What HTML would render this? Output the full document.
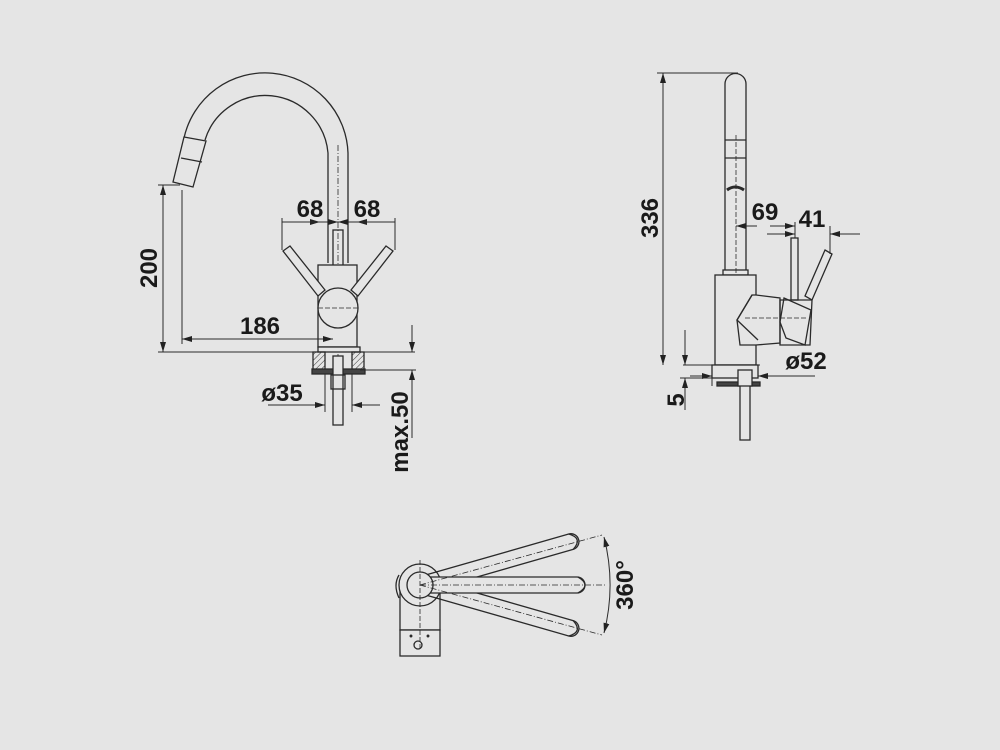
<!DOCTYPE html>
<html><head><meta charset="utf-8"><style>
html,body{margin:0;padding:0;background:#e5e5e5;}
svg{display:block}
text{font-family:"Liberation Sans",sans-serif;font-weight:bold;fill:#1a1a1a}
</style></head><body>
<svg width="1000" height="750" viewBox="0 0 1000 750" xmlns="http://www.w3.org/2000/svg">
<defs>
<marker id="a" viewBox="0 0 10 6" refX="10" refY="3" markerWidth="10" markerHeight="6" orient="auto-start-reverse" markerUnits="userSpaceOnUse"><path d="M0,0L10,3L0,6z" fill="#222"/></marker>
<pattern id="h" width="4" height="4" patternUnits="userSpaceOnUse" patternTransform="rotate(45)"><line x1="0" y1="0" x2="0" y2="4" stroke="#333" stroke-width="1"/></pattern>
</defs>
<rect width="1000" height="750" fill="#e5e5e5"/>
<g fill="none" stroke="#2a2a2a" stroke-width="1.3">
<!-- LEFT VIEW -->
<path d="M348,263 L348,153 A83,83 0 0 0 184,138"/>
<path d="M328,263 L328,153 A63,63 0 0 0 205,140"/>
<path d="M184,137 L206,141 L193,187 L173,182 Z" fill="#e5e5e5"/>
<line x1="181" y1="158" x2="202" y2="162"/>
<line x1="338" y1="145" x2="338" y2="390" stroke-dasharray="6,2,1,2" stroke-width="0.8"/>
<rect x="333" y="230" width="10" height="36"/>
<rect x="318" y="265" width="39" height="82" fill="#e5e5e5"/>
<path d="M283,251 L290,246 L325,290 L318,296 Z" fill="#e5e5e5"/>
<path d="M393,251 L386,246 L351,290 L358,296 Z" fill="#e5e5e5"/>
<circle cx="338" cy="308" r="20" fill="#e5e5e5"/>
<line x1="318" y1="308" x2="358" y2="308" stroke-dasharray="5,2" stroke-width="0.8"/>
<line x1="282" y1="222" x2="395" y2="222" stroke-width="1"/>
<line x1="282" y1="222" x2="320" y2="222" marker-end="url(#a)" stroke-width="1"/>
<line x1="395" y1="222" x2="357" y2="222" marker-end="url(#a)" stroke-width="1"/>
<line x1="300" y1="222" x2="338" y2="222" marker-end="url(#a)" stroke-width="1"/>
<line x1="376" y1="222" x2="338" y2="222" marker-end="url(#a)" stroke-width="1"/>
<line x1="282" y1="218" x2="282" y2="250" stroke-width="1"/>
<line x1="395" y1="218" x2="395" y2="250" stroke-width="1"/>
<line x1="158" y1="185" x2="180" y2="185" stroke-width="1"/>
<line x1="163" y1="185" x2="163" y2="352" marker-start="url(#a)" marker-end="url(#a)" stroke-width="1"/>
<line x1="182" y1="190" x2="182" y2="344" stroke-width="1"/>
<line x1="182" y1="339" x2="333" y2="339" marker-start="url(#a)" marker-end="url(#a)" stroke-width="1"/>
<line x1="158" y1="352" x2="415" y2="352" stroke-width="1"/>
<rect x="318" y="347" width="42" height="5" fill="#e5e5e5"/>
<rect x="313" y="352" width="12" height="18" fill="url(#h)"/>
<rect x="352" y="352" width="12" height="18" fill="url(#h)"/>
<rect x="312" y="369" width="53" height="5" fill="#444"/>
<rect x="333" y="356" width="10" height="69" fill="#e5e5e5"/>
<rect x="331" y="375" width="14" height="14"/>
<line x1="325" y1="374" x2="325" y2="412" stroke-width="1"/>
<line x1="352" y1="374" x2="352" y2="412" stroke-width="1"/>
<line x1="268" y1="405" x2="325" y2="405" marker-end="url(#a)" stroke-width="1"/>
<line x1="380" y1="405" x2="352" y2="405" marker-end="url(#a)" stroke-width="1"/>
<line x1="360" y1="370" x2="416" y2="370" stroke-width="1"/>
<line x1="412" y1="325" x2="412" y2="352" marker-end="url(#a)" stroke-width="1"/>
<line x1="412" y1="395" x2="412" y2="370" marker-end="url(#a)" stroke-width="1"/>
<line x1="412" y1="395" x2="412" y2="438" stroke-width="1"/>
<!-- RIGHT VIEW -->
<path d="M725,273 L725,84 A10.5,10.5 0 0 1 746,84 L746,273" fill="#e5e5e5"/>
<line x1="725" y1="140" x2="746" y2="140"/>
<line x1="725" y1="158" x2="746" y2="158"/>
<path d="M727,190 Q735,184 744,190" stroke-width="3"/>
<rect x="723" y="270" width="25" height="5" fill="#e5e5e5"/>
<line x1="736" y1="135" x2="736" y2="365" stroke-dasharray="5,2" stroke-width="0.8"/>
<rect x="715" y="275" width="41" height="90" fill="#e5e5e5"/>
<path d="M756,295 L780,298 L780,343 L756,345 L740,345 L737,320 L752,295 Z" fill="#e5e5e5"/>
<path d="M752,295 L737,320 L758,340" />
<rect x="791" y="238" width="7" height="62" fill="#e5e5e5"/>
<path d="M825,250 L832,254 L812,300 L805,296 Z" fill="#e5e5e5"/>
<path d="M784,298 L811,310 L805,345 L786,338 L780,322 Z" fill="#e5e5e5"/>
<path d="M780,300 L812,300 L810,345 L780,345 Z" fill="none"/>
<line x1="745" y1="318" x2="808" y2="318" stroke-dasharray="5,2" stroke-width="0.8"/>
<line x1="657" y1="73" x2="738" y2="73" stroke-width="1"/>
<line x1="663" y1="73" x2="663" y2="365" marker-start="url(#a)" marker-end="url(#a)" stroke-width="1"/>
<line x1="683" y1="365" x2="760" y2="365" stroke-width="1"/>
<line x1="736" y1="226" x2="757" y2="226" stroke-width="1"/>
<line x1="770" y1="226" x2="795" y2="226" marker-end="url(#a)" stroke-width="1"/>
<line x1="757" y1="226" x2="736" y2="226" marker-end="url(#a)" stroke-width="1"/>
<line x1="795" y1="222" x2="795" y2="238" stroke-width="1"/>
<line x1="767" y1="234" x2="795" y2="234" marker-end="url(#a)" stroke-width="1"/>
<line x1="860" y1="234" x2="830" y2="234" marker-end="url(#a)" stroke-width="1"/>
<line x1="830" y1="226" x2="830" y2="254" stroke-width="1"/>
<rect x="712" y="365" width="46" height="13" fill="#e5e5e5"/>
<rect x="717" y="382" width="43" height="4" fill="#444"/>
<rect x="740" y="372" width="10" height="68" fill="#e5e5e5"/>
<rect x="738" y="370" width="14" height="16" fill="#e5e5e5"/>
<line x1="712" y1="365" x2="712" y2="386" stroke-width="1"/>
<line x1="690" y1="376" x2="712" y2="376" marker-end="url(#a)" stroke-width="1"/>
<line x1="815" y1="376" x2="758" y2="376" marker-end="url(#a)" stroke-width="1"/>
<line x1="685" y1="330" x2="685" y2="365" marker-end="url(#a)" stroke-width="1"/>
<line x1="685" y1="410" x2="685" y2="378" marker-end="url(#a)" stroke-width="1"/>
<line x1="680" y1="378" x2="712" y2="378" stroke-width="1"/>
<!-- BOTTOM VIEW -->
<rect x="400" y="585" width="40" height="45" fill="#e5e5e5"/>
<rect x="400" y="630" width="40" height="26" fill="#e5e5e5"/>
<circle cx="418" cy="645" r="4"/>
<circle cx="411" cy="636" r="0.8" fill="#222"/>
<circle cx="428" cy="636" r="0.8" fill="#222"/>
<circle cx="420" cy="585" r="21" fill="#e5e5e5"/>
<path d="M399,575 Q393,585 399,598" />
<g transform="rotate(-16 420 585)"><path d="M420,577 L577,577 A8,8 0 0 1 577,593 L420,593"/><path d="M577,577 Q590,585 577,593"/></g>
<g transform="rotate(16 420 585)"><path d="M420,577 L577,577 A8,8 0 0 1 577,593 L420,593"/><path d="M577,577 Q590,585 577,593"/></g>
<path d="M420,577 L577,577 A8,8 0 0 1 577,593 L420,593" fill="#e5e5e5"/>
<path d="M578,577 Q592,585 578,593" />
<circle cx="420" cy="585" r="13" fill="#e5e5e5"/>
<line x1="420" y1="585" x2="605" y2="585" stroke-dasharray="6,2,1,2" stroke-width="0.8"/>
<line x1="420" y1="585" x2="602" y2="535" stroke-dasharray="6,2,1,2" stroke-width="0.8"/>
<line x1="420" y1="585" x2="602" y2="635" stroke-dasharray="6,2,1,2" stroke-width="0.8"/>
<line x1="420" y1="560" x2="420" y2="650" stroke-dasharray="5,2" stroke-width="0.8"/>
<path d="M604,537 A195,195 0 0 1 604,633" marker-start="url(#a)" marker-end="url(#a)" stroke-width="1"/>
</g>
<g font-size="24">
<text x="310" y="217" text-anchor="middle">68</text>
<text x="367" y="217" text-anchor="middle">68</text>
<text x="260" y="334" text-anchor="middle">186</text>
<text x="282" y="401" text-anchor="middle">ø35</text>
<text transform="translate(157,268) rotate(-90)" text-anchor="middle">200</text>
<text transform="translate(408,432) rotate(-90)" text-anchor="middle">max.50</text>
<text transform="translate(658,218) rotate(-90)" text-anchor="middle">336</text>
<text x="765" y="220" text-anchor="middle">69</text>
<text x="812" y="227" text-anchor="middle">41</text>
<text x="806" y="369" text-anchor="middle">ø52</text>
<text transform="translate(684,400) rotate(-90)" text-anchor="middle">5</text>
<text transform="translate(633,585) rotate(-90)" text-anchor="middle">360°</text>
</g>
</svg>
</body></html>
